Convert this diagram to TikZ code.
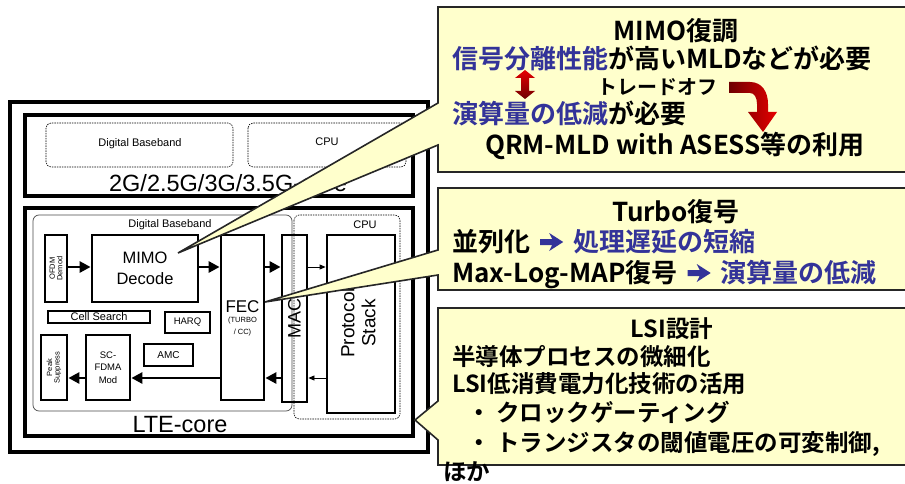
\documentclass[tikz,border=0pt]{standalone}
\usepackage{fontspec}
\setmainfont{Liberation Sans}
\newfontfamily\jp[BoldFont={Noto Sans CJK JP Bold}]{Noto Sans CJK JP}
\usetikzlibrary{calc,arrows.meta}
\definecolor{cyel}{RGB}{255,255,204}
\definecolor{cblue}{RGB}{51,51,153}
\definecolor{dred}{RGB}{110,0,0}
\definecolor{bred}{RGB}{230,0,0}
\newcommand{\fsz}[1]{\fontsize{#1}{#1}\selectfont}
\newcommand{\barrow}{\kern10pt\tikz[baseline={(0,-9pt)},x=1pt,y=1pt]\fill[cblue] (0,3) -- (12,3) -- (9,9) -- (23,0) -- (9,-9) -- (12,-3) -- (0,-3) -- cycle;\kern10pt}
\tikzset{
  bigbox/.style={draw, line width=4pt},
  blk/.style={draw, line width=2.8pt, inner sep=0pt},
  dashbox/.style={draw, line width=0.6pt, dash pattern=on 1.5pt off 1pt, rounded corners=5pt},
  dbbox/.style={draw=black!70, line width=0.7pt, rounded corners=6pt},
  lbl/.style={inner sep=0pt, align=center},
  thk/.style={line width=2.8pt, -{Triangle[length=11pt,width=11pt]}},
  thn/.style={line width=0.8pt, -{Triangle[length=6pt,width=5pt]}},
  callout/.style={draw=black!85, line width=1.6pt, fill=cyel},
  jtxt/.style={inner sep=0pt, font=\jp\bfseries}
}
\begin{document}
\begin{tikzpicture}[x=1pt,y=-1pt]
\useasboundingbox (0,0) rectangle (905,484);
\fill[white] (0,0) rectangle (905,484);
% big boxes
\draw[bigbox] (10,102) rectangle (428,452);
\draw[bigbox] (25,115) rectangle (413,196);
\draw[bigbox] (25,208) rectangle (413,436);
% 2G core inner
\draw[dashbox] (46,123) rectangle (233,167);
\draw[dashbox] (248,123) rectangle (406,167);
\node[lbl, font=\fsz{11}] (g2db) at (140,144) {Digital Baseband};
\node[lbl, font=\fsz{11}] (g2cpu) at (327,142) {CPU};
\node[lbl, font=\fsz{23.5}] (g2core) at (228,183) {2G/2.5G/3G/3.5G-core};
% LTE core
\draw[dbbox] (33,215) rectangle (292,411);
\draw[dashbox] (294,215) rectangle (400,419);
\node[lbl, font=\fsz{11}] (ltedb) at (170,225) {Digital Baseband};
\node[lbl, font=\fsz{11}] (ltecpu) at (365,225) {CPU};
\node[lbl, font=\fsz{23.5}] (ltecore) at (180,425) {LTE-core};
% blocks
\node[blk, minimum width=22pt, minimum height=67pt] (ofdm) at (56,268.5) {};
\node[lbl, rotate=90, font=\fsz{7.5}] at (ofdm) {OFDM\\Demod};
\node[blk, minimum width=106pt, minimum height=67pt, font=\fsz{16.5}, align=center] (mimo) at (145,268.5) {MIMO\\[5pt]Decode};
\node[blk, minimum width=43pt, minimum height=165pt] (fec) at (242.5,317.5) {};
\node[lbl, font=\fsz{17}] (fect) at (242.5,306.5) {FEC};
\node[lbl, font=\fsz{7.5}] at (242.5,321) {(TURBO};
\node[lbl, font=\fsz{7.5}] at (242.5,333) {/ CC)};
\node[blk, minimum width=25pt, minimum height=167pt] (mac) at (294.5,318.5) {};
\node[lbl, rotate=90, font=\fsz{18}] at (294.5,318) {MAC};
\node[blk, minimum width=68pt, minimum height=178pt] (prot) at (361,324) {};
\node[lbl, rotate=90, font=\fsz{19}] at (358,323) {Protocol\\[2pt]Stack};
\node[blk, minimum width=102pt, minimum height=12pt, font=\fsz{11}] (cell) at (99,317) {Cell Search};
\node[blk, minimum width=45pt, minimum height=21pt, font=\fsz{9.5}] (harq) at (187.5,322.5) {HARQ};
\node[blk, minimum width=26pt, minimum height=65pt] (peak) at (54,367.5) {};
\node[lbl, rotate=90, font=\fsz{7.5}] at (peak) {Peak\\Suppress};
\node[blk, minimum width=44pt, minimum height=65pt, font=\fsz{9.5}, align=center] (scf) at (108,367.5) {SC-\\[3pt]FDMA\\[3pt]Mod};
\node[blk, minimum width=49pt, minimum height=22pt, font=\fsz{10}] (amc) at (168.5,355) {AMC};
% arrows
\coordinate (trow) at (0,267);
\coordinate (brow) at (0,378);
\draw[thk] (ofdm.east |- trow) -- (mimo.west |- trow);
\draw[thk] (mimo.east |- trow) -- (fec.west |- trow);
\draw[thk] (fec.east |- trow) -- (mac.west |- trow);
\draw[thn] (mac.east |- trow) -- (prot.west |- trow);
\draw[thn] (prot.west |- brow) -- (mac.east |- brow);
\draw[thk] (mac.west |- brow) -- (fec.east |- brow);
\draw[thk] (fec.west |- brow) -- (scf.east |- brow);
\draw[thk] (scf.west |- brow) -- (peak.east |- brow);
% callouts
\coordinate (tip1) at (178,253);
\coordinate (tip2) at (265,302);
\coordinate (tip3) at (415,420);
\draw[callout] (438,7) -- (910,7) -- (910,172) -- (438,172) -- (438,145) -- (tip1) -- (438,103) -- cycle;
\draw[callout] (438,188) -- (910,188) -- (910,290) -- (438,290) -- (438,275) -- (tip2) -- (438,250) -- cycle;
\draw[callout] (438,308) -- (910,308) -- (910,465) -- (438,465) -- (438,440) -- (tip3) -- (438,401) -- cycle;
% callout 1 text
\node[jtxt, font=\jp\bfseries\fsz{26}, anchor=base] (c1t) at (676,41) {MIMO復調};
\node[jtxt, font=\jp\bfseries\fsz{26}, anchor=base west] (c1a) at (452,69) {\color{cblue}信号分離性能\color{black}が高いMLDなどが必要};
\node[jtxt, font=\jp\bfseries\fsz{20}, anchor=base west] (c1b) at (597,95) {トレードオフ};
\node[jtxt, font=\jp\bfseries\fsz{26}, anchor=base west] (c1c) at (452,124) {\color{cblue}演算量の低減\color{black}が必要};
\node[jtxt, font=\jp\bfseries\fsz{26}, anchor=base] (c1d) at (675,154) {QRM-MLD with ASESS等の利用};
% double arrow
\shade[top color=bred, bottom color=dred] (525,70) -- (535,78) -- (529,78) -- (529,91) -- (535,91) -- (525,99) -- (515,91) -- (521,91) -- (521,78) -- (515,78) -- cycle;
% curved arrow
\shade[left color=dred, right color=bred] (729,82) -- (750,82) .. controls (762,82) and (768,92) .. (768,104) -- (768,112) -- (777,112) -- (763,132) -- (748,112) -- (757,112) -- (757,104) .. controls (757,97) and (754,93) .. (750,93) -- (729,93) -- cycle;
% callout 2 text
\node[jtxt, font=\jp\bfseries\fsz{26}, anchor=base] (c2t) at (676,221) {Turbo復号};
\node[jtxt, font=\jp\bfseries\fsz{26}, anchor=base west] (c2a) at (452,251) {並列化\barrow\color{cblue}処理遅延の短縮};
\node[jtxt, font=\jp\bfseries\fsz{26}, anchor=base west] (c2b) at (452,282) {Max-Log-MAP復号\barrow\color{cblue}演算量の低減};
% callout 3 text
\node[jtxt, font=\jp\bfseries\fsz{23.5}, anchor=base] (c3t) at (672,337) {LSI設計};
\node[jtxt, font=\jp\bfseries\fsz{23.5}, anchor=base west] (c3a) at (452,365) {半導体プロセスの微細化};
\node[jtxt, font=\jp\bfseries\fsz{23.5}, anchor=base west] (c3b) at (452,392) {LSI低消費電力化技術の活用};
\node[jtxt, font=\jp\bfseries\fsz{23.5}, anchor=base west] (c3c) at (467,421) {・ クロックゲーティング};
\node[jtxt, font=\jp\bfseries\fsz{23.5}, anchor=base west] (c3d) at (467,451) {・ トランジスタの閾値電圧の可変制御,};
\node[jtxt, font=\jp\bfseries\fsz{23.5}, anchor=base west] (c3e) at (443,480) {ほか};
\end{tikzpicture}
\end{document}
